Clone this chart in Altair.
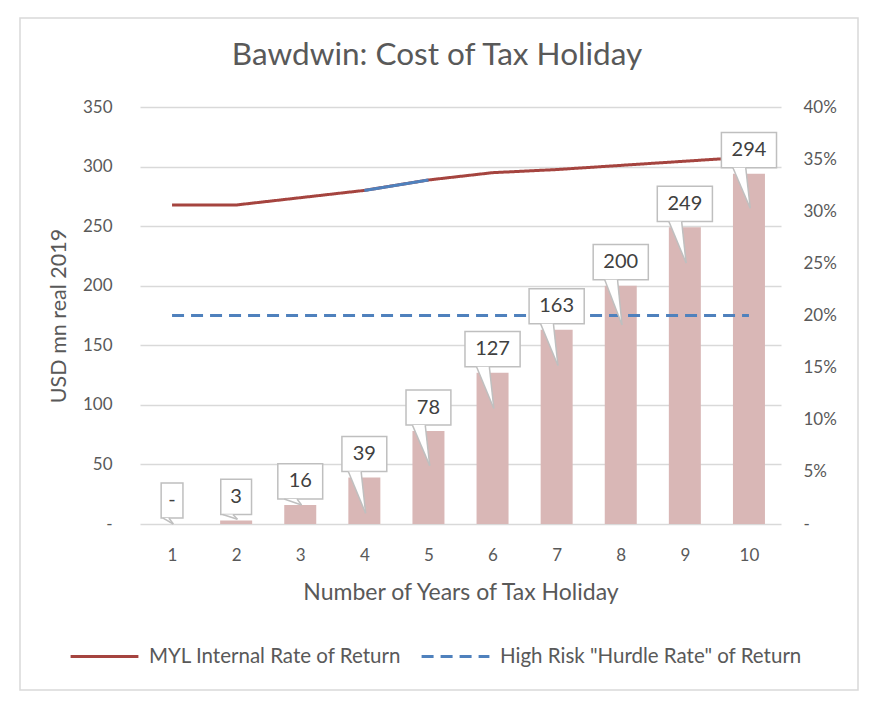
import altair as alt
import pandas as pd

# ---- data ----
years = [1, 2, 3, 4, 5, 6, 7, 8, 9, 10]
cost = [0, 3, 16, 39, 78, 127, 163, 200, 249, 294]          # USD mn real 2019
labels = ["-", "3", "16", "39", "78", "127", "163", "200", "249", "294"]
tail_tip = [0, 4, 16, 9, 49, 97, 133, 167, 219, 265]         # where each callout pointer ends
irr = [30.6, 30.6, 31.3, 32.0, 33.0, 33.7, 34.0, 34.4, 34.8, 35.2]  # %
hurdle = [20, 20, 20, 20, 20, 20, 20, 20, 20, 20]            # %
highlight_years = [4, 5]
series_names = ["MYL Internal Rate of Return", 'High Risk "Hurdle Rate" of Return']
y_ticks = [0, 50, 100, 150, 200, 250, 300, 350]
pct_ticks = [0, 5, 10, 15, 20, 25, 30, 35, 40]
title_text = "Bawdwin: Cost of Tax Holiday"

# ---- styles ----
FONT = "Lato"
TXT = "#595959"
GRID = "#D9D9D9"
BAR = "#D9B7B6"
RED = "#A5443F"
BLUE = "#4F81BD"
BOX_STROKE = "#BFBFBF"
GAP = 5.0      # callout gap above bar (data units)
BOXH = 29.5    # callout height (data units)

bars_df = pd.DataFrame({"year": years, "cost": cost, "label": labels, "tip": tail_tip})


def half_width(lbl):
    if lbl == "-":
        return 0.17
    return {1: 0.24, 2: 0.35, 3: 0.43}[len(lbl)]


box_rows, tail_rows, edge_rows = [], [], []
for yr, c, lbl, tip in zip(years, cost, labels, tail_tip):
    hw = half_width(lbl)
    lo, hi = c + GAP, c + GAP + BOXH
    box_rows.append({"x1": yr - hw, "x2": yr + hw, "lo": lo, "hi": hi,
                     "mid": (lo + hi) / 2, "year": yr, "label": lbl})
    tl = yr - min(0.25, hw - 0.03)
    tr = yr - 0.05
    tt = yr + 0.02
    ybt = lo + (tip - lo) * (tr - tl) / (tt - tl)
    tail_rows += [
        {"year": yr, "tx": tl, "ty": lo, "ty2": lo},
        {"year": yr, "tx": tr, "ty": lo, "ty2": ybt},
        {"year": yr, "tx": tt, "ty": tip, "ty2": tip},
    ]
    edge_rows += [
        {"ex": tl, "ey": lo, "ex2": tt, "ey2": tip},
        {"ex": tr, "ey": lo, "ex2": tt, "ey2": tip},
    ]
box_df = pd.DataFrame(box_rows)
tail_df = pd.DataFrame(tail_rows)
edge_df = pd.DataFrame(edge_rows)

lines_df = pd.DataFrame({
    "year": years + years,
    "pct": irr + hurdle,
    "series": [series_names[0]] * len(years) + [series_names[1]] * len(years),
})
hl_df = pd.DataFrame({"year": highlight_years,
                      "pct": [irr[years.index(y)] for y in highlight_years]})

xscale = alt.Scale(domain=[0.5, 10.5], nice=False, zero=False, padding=0)
yscale = alt.Scale(domain=[0, 350], nice=False)
pscale = alt.Scale(domain=[0, 40], nice=False)

x_axis = alt.Axis(values=years, format="d", grid=False, domain=False, ticks=False,
                  labelFontSize=17, labelColor=TXT, labelPadding=23,
                  title="Number of Years of Tax Holiday", titleFontSize=23,
                  titleFontWeight="normal", titleColor=TXT, titlePadding=18)


def X(field):
    return alt.X(field, scale=xscale, axis=x_axis)


# ---- left-axis group: bars ----
bars = alt.Chart(bars_df).mark_bar(width=32, color=BAR).encode(
    x=X("year:Q"),
    y=alt.Y("cost:Q", scale=yscale, axis=alt.Axis(
        values=y_ticks, labelExpr="datum.value == 0 ? '-' : datum.label",
        grid=True, gridColor=GRID, gridWidth=1.5, domain=False, ticks=False,
        labelFontSize=17, labelColor=TXT, labelPadding=28,
        title="USD mn real 2019", titleFontSize=21.5, titleFontWeight="normal",
        titleColor=TXT, titlePadding=12)),
)

# ---- right-axis group: lines ----
leg = alt.Legend(title=None, orient="none", legendX=-71, legendY=514,
                 direction="horizontal", symbolType="stroke", symbolSize=4600,
                 symbolStrokeWidth=3, labelFontSize=20.5, labelColor=TXT,
                 labelOffset=9, columnPadding=13, labelLimit=400)
ypct = alt.Y("pct:Q", scale=pscale, axis=alt.Axis(
    orient="right", values=pct_ticks,
    labelExpr="datum.value == 0 ? '-' : datum.value + '%'",
    grid=False, domain=False, ticks=False, labelFontSize=17, labelColor=TXT,
    labelPadding=22, title=None))
lines = alt.Chart(lines_df).mark_line(strokeWidth=3).encode(
    x=X("year:Q"),
    y=ypct,
    color=alt.Color("series:N", scale=alt.Scale(domain=series_names, range=[RED, BLUE]), legend=leg),
    strokeDash=alt.StrokeDash("series:N", scale=alt.Scale(domain=series_names, range=[[1, 0], [12, 7]]), legend=leg),
)
hl = alt.Chart(hl_df).mark_line(strokeWidth=3, color=BLUE).encode(
    x=X("year:Q"),
    y=ypct,
)
right_group = alt.layer(lines, hl)

# ---- callouts (left scale, no axis) ----
boxes = alt.Chart(box_df).mark_rect(fill="white", stroke=BOX_STROKE, strokeWidth=1.5).encode(
    x=X("x1:Q"), x2="x2:Q",
    y=alt.Y("lo:Q", scale=yscale, axis=None), y2="hi:Q",
)
tail_fill = alt.Chart(tail_df).mark_area(color="white").encode(
    x=X("tx:Q"),
    y=alt.Y("ty:Q", scale=yscale, axis=None), y2="ty2:Q",
    detail="year:N",
)
tail_edges = alt.Chart(edge_df).mark_rule(color=BOX_STROKE, strokeWidth=1.5).encode(
    x=X("ex:Q"), x2="ex2:Q",
    y=alt.Y("ey:Q", scale=yscale, axis=None), y2="ey2:Q",
)
texts = alt.Chart(box_df).mark_text(fontSize=20, color="#404040", baseline="middle", font=FONT).encode(
    x=X("year:Q"),
    y=alt.Y("mid:Q", scale=yscale, axis=None),
    text="label:N",
)
one = pd.DataFrame({"k": [0]})
frame = alt.Chart(one).mark_rect(
    fill="transparent", stroke=GRID, strokeWidth=1.5).encode(
    x=alt.value(-120), x2=alt.value(718), y=alt.value(-89), y2=alt.value(583))
title = alt.Chart(pd.DataFrame({"t": [title_text]})).mark_text(
    fontSize=31.5, color=TXT, font=FONT, align="center", baseline="middle").encode(
    x=alt.value(297), y=alt.value(-51), text="t:N")
callouts = alt.layer(boxes, tail_fill, tail_edges, texts, frame, title)

chart = alt.layer(bars, right_group, callouts).resolve_scale(
    y="independent"
).properties(
    width=641, height=417,
    autosize=alt.AutoSizeParams(type="none"),
    padding={"left": 132, "top": 99, "right": 89, "bottom": 170},
    background="white",
).configure(font=FONT).configure_view(stroke=None)

chart.save("out.html", embed_options={"renderer": "svg", "actions": False})
